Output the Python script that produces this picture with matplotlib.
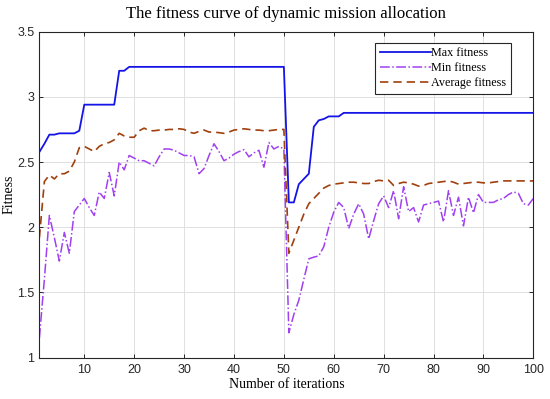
import numpy as np
import matplotlib
matplotlib.use('Agg')
import matplotlib.pyplot as plt

iters = np.arange(1, 101)

max_fit = [2.577, 2.64, 2.71, 2.71, 2.72, 2.72, 2.72, 2.72, 2.74, 2.94,
           2.94, 2.94, 2.94, 2.94, 2.94, 2.94, 3.20, 3.20] + [3.23] * 32 + \
          [2.19, 2.19, 2.33, 2.37, 2.41, 2.77, 2.82, 2.83, 2.85, 2.85, 2.85] + [2.877] * 39

min_fit = [1.15, 1.60, 2.09, 1.92, 1.74, 1.96, 1.80, 2.12, 2.17, 2.22,
           2.15, 2.09, 2.27, 2.22, 2.42, 2.24, 2.50, 2.44, 2.55, 2.53,
           2.51, 2.51, 2.49, 2.47, 2.54, 2.60, 2.60, 2.59, 2.57, 2.55,
           2.55, 2.54, 2.41, 2.45, 2.55, 2.64, 2.58, 2.51, 2.53, 2.56,
           2.58, 2.595, 2.54, 2.57, 2.59, 2.46, 2.65, 2.60, 2.62, 2.60,
           1.19, 1.33, 1.44, 1.60, 1.757, 1.77, 1.78, 1.85, 2.00, 2.115,
           2.19, 2.15, 1.99, 2.10, 2.18, 2.10, 1.91, 2.05, 2.18, 2.24,
           2.15, 2.28, 2.065, 2.31, 2.12, 2.15, 2.04, 2.17, 2.18, 2.19,
           2.20, 2.04, 2.28, 2.09, 2.23, 2.01, 2.23, 2.11, 2.25, 2.19,
           2.19, 2.19, 2.21, 2.22, 2.25, 2.27, 2.26, 2.18, 2.17, 2.22]

avg_fit = [1.92, 2.35, 2.40, 2.37, 2.41, 2.41, 2.43, 2.50, 2.61, 2.62,
           2.60, 2.58, 2.62, 2.64, 2.65, 2.67, 2.72, 2.70, 2.69, 2.69,
           2.74, 2.76, 2.74, 2.74, 2.745, 2.745, 2.75, 2.75, 2.755, 2.75,
           2.73, 2.72, 2.735, 2.745, 2.73, 2.73, 2.725, 2.72, 2.73, 2.745,
           2.75, 2.755, 2.75, 2.745, 2.745, 2.74, 2.74, 2.745, 2.75, 2.75,
           1.80, 1.90, 2.00, 2.10, 2.18, 2.22, 2.26, 2.30, 2.32, 2.33,
           2.335, 2.34, 2.345, 2.345, 2.34, 2.335, 2.335, 2.35, 2.36, 2.355,
           2.36, 2.32, 2.335, 2.345, 2.34, 2.33, 2.315, 2.32, 2.335, 2.34,
           2.345, 2.35, 2.355, 2.345, 2.33, 2.335, 2.34, 2.345, 2.345, 2.34,
           2.34, 2.345, 2.35, 2.355, 2.355, 2.355, 2.355, 2.355, 2.355, 2.355]

serif = 'Liberation Serif'

fig = plt.figure(figsize=(5.5, 3.99), dpi=100)
ax = fig.add_axes([0.0716, 0.104, 0.8981, 0.8166])

ax.plot(iters, max_fit, '-', color='#1414e6', lw=1.3, label='Max fitness')
ax.plot(iters, min_fit, '-.', color='#a040f0', lw=1.1, label='Min fitness')
ax.plot(iters, avg_fit, '--', color='#a0400e', lw=1.2, dashes=(5, 3), label='Average fitness')

ax.set_xlim(1, 100)
ax.set_ylim(1, 3.5)
ax.set_xticks(np.arange(10, 101, 10))
ax.set_yticks([1, 1.5, 2, 2.5, 3, 3.5])
ax.set_yticklabels(['1', '1.5', '2', '2.5', '3', '3.5'])
ax.tick_params(direction='in', top=True, right=True, labelsize=9,
               length=3, width=0.7, colors='#262626')
ax.tick_params(axis='x', pad=5)
for lab in ax.get_xticklabels() + ax.get_yticklabels():
    lab.set_fontfamily('Liberation Sans')
    lab.set_color('#262626')
ax.grid(True, color='#e0e0e0', lw=0.7)
for s in ax.spines.values():
    s.set_color('#262626')
    s.set_linewidth(0.8)

ax.set_title('The fitness curve of dynamic mission allocation', fontfamily=serif, fontsize=12, pad=10)
ax.set_xlabel('Number of iterations', fontfamily=serif, fontsize=10, labelpad=1)
ax.set_ylabel('Fitness', fontfamily=serif, fontsize=10)
ax.yaxis.set_label_coords(-0.049, 0.5)

leg = ax.legend(loc='upper right', prop={'family': serif, 'size': 8.7}, fancybox=False,
                edgecolor='#262626', framealpha=1, handlelength=4.2, handletextpad=0.0,
                borderpad=0.4, labelspacing=0.25, bbox_to_anchor=(0.967, 0.985))
leg.get_frame().set_linewidth(0.8)

fig.savefig('out.png', dpi=100)
